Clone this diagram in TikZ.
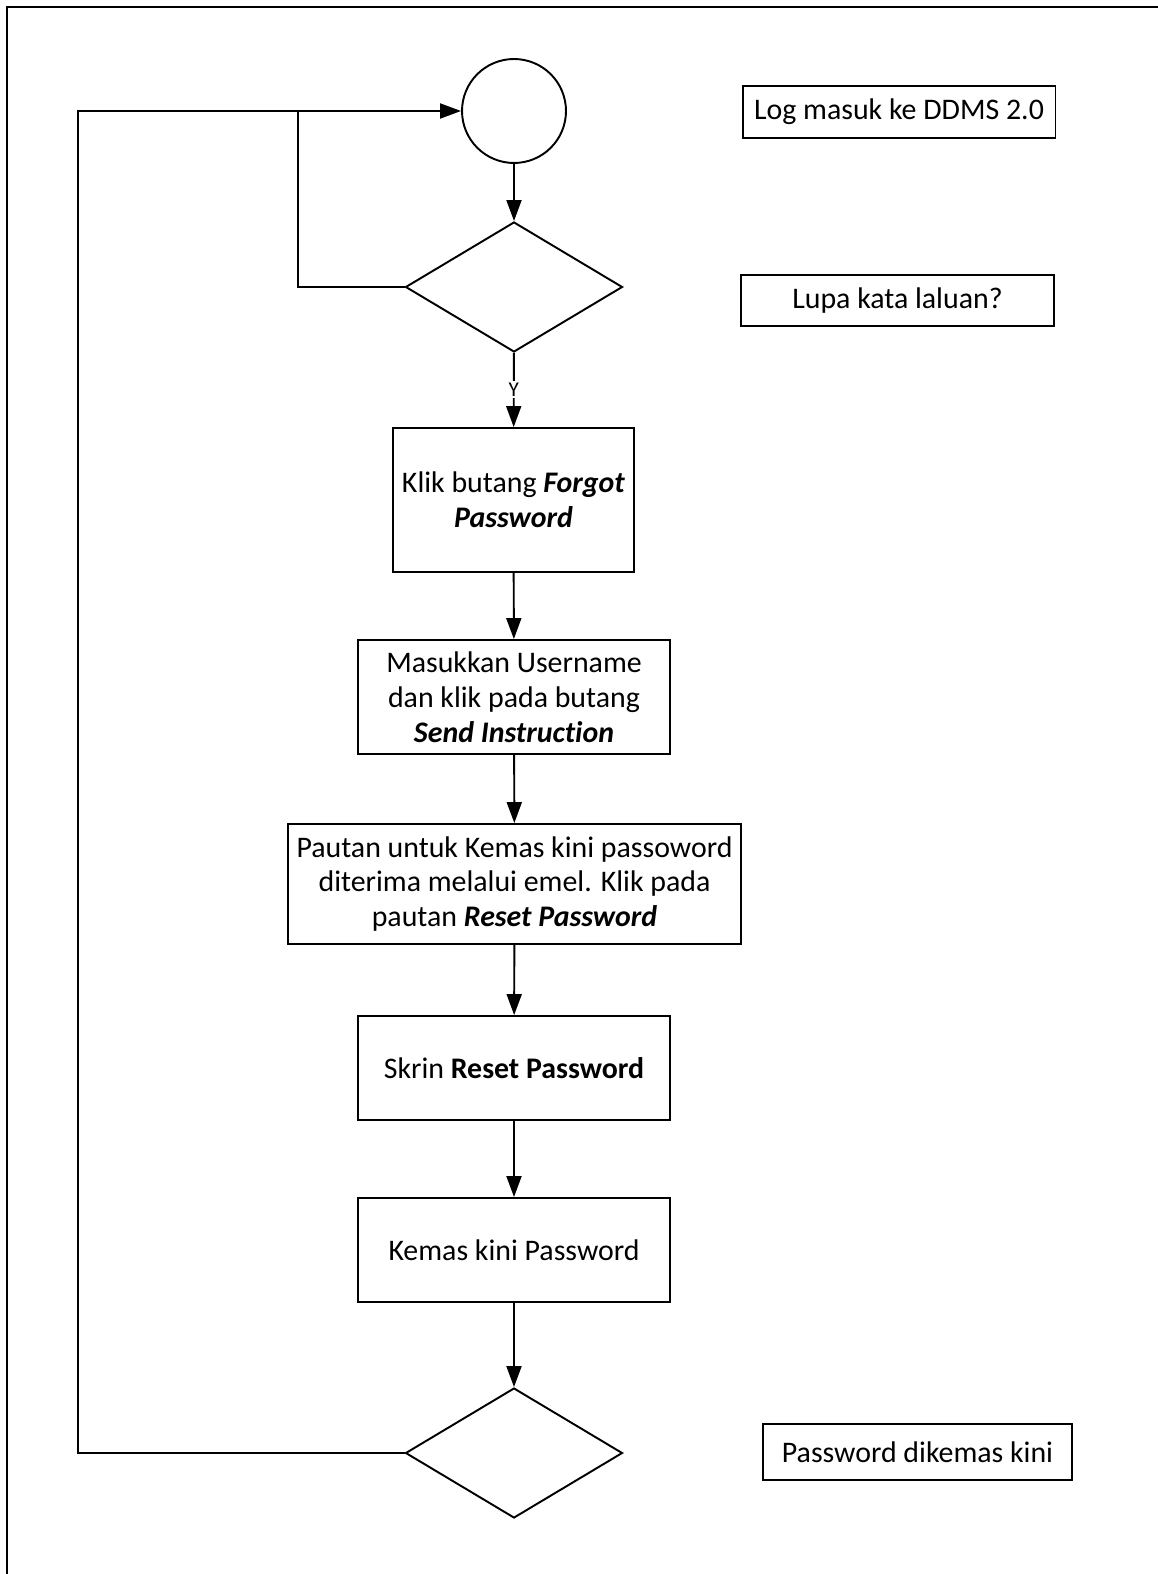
\documentclass[tikz,border=0pt]{standalone}
\usepackage{fontspec}
\setmainfont{Carlito}[Ligatures=NoCommon]
\usetikzlibrary{arrows.meta,shapes.geometric}
\newcommand{\px}{0.02cm}
\newcommand{\bi}[1]{\textbf{\textit{#1}}}

\begin{document}
\begin{tikzpicture}[x=\px,y=-\px,line width=1.1pt,
	process/.style={draw, rectangle, align=center, inner sep=0pt, font=\fontsize{17}{19.9}\selectfont},
	decision/.style={draw, diamond, inner sep=0pt, minimum width=4.34cm, minimum height=2.6cm},
	note/.style={draw, rectangle, inner sep=0pt, font=\fontsize{17}{19.9}\selectfont},
	arr/.style={-{Triangle[length=0.42cm,width=0.3cm]}},
	ylabel/.style={fill=white, inner sep=1pt, font=\fontsize{12}{14}\selectfont}]
	\useasboundingbox (0,0) rectangle (1158,1574);
	\draw (7,1574) -- (7,7) -- (1158,7);

	\node[draw, circle, minimum size=2.08cm, inner sep=0pt] (start) at (514,111) {};
	\node[decision] (ask) at (514,287) {};
	\node[process, minimum width=4.82cm, minimum height=2.88cm] (forgot) at (513.5,500) {Klik butang \bi{Forgot}\\\bi{Password}};
	\node[process, minimum width=6.24cm, minimum height=2.28cm] (user) at (514,697) {Masukkan Username\\dan klik pada butang\\\bi{Send Instruction}};
	\node[process, minimum width=9.06cm, minimum height=2.4cm] (link) at (514.5,884) {Pautan untuk Kemas kini passoword\\diterima melalui emel. Klik pada\\pautan \bi{Reset Password}};
	\node[process, minimum width=6.24cm, minimum height=2.08cm] (screen) at (514,1068) {Skrin \textbf{Reset Password}};
	\node[process, minimum width=6.24cm, minimum height=2.08cm] (update) at (514,1250) {Kemas kini Password};
	\node[decision] (done) at (514,1453) {};

	% notes on the right
	\node[note, minimum width=6.26cm, minimum height=1.04cm] (login) at (899,112) {Log masuk ke DDMS 2.0};
	\node[note, minimum width=6.26cm, minimum height=1.02cm] (lupa) at (897.5,300.5) {Lupa kata laluan?};
	\node[note, minimum width=6.18cm, minimum height=1.12cm] (changed) at (917.5,1452) {Password dikemas kini};

	\coordinate (outer) at (78,111);
	\coordinate (inner) at (298,111);

	\draw[arr] (start) -- (ask);
	\draw[arr] (ask) -- node[ylabel] {Y} (forgot);
	\draw[arr] (forgot) -- (user);
	\draw[arr] (user) -- (link);
	\draw[arr] (link) -- (screen);
	\draw[arr] (screen) -- (update);
	\draw[arr] (update) -- (done);
	\draw[arr] (done.west) -| (outer) -- (start.west);
	\draw (ask.west) -| (inner);
\end{tikzpicture}
\end{document}
